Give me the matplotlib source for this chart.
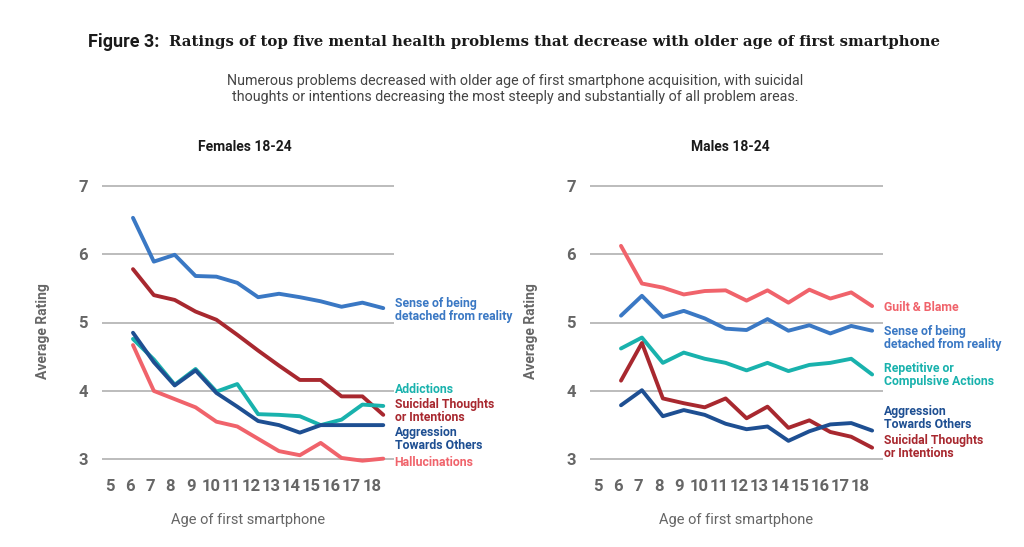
import numpy as np
import matplotlib
matplotlib.use('Agg')
import matplotlib.pyplot as plt

plt.rcParams['font.family'] = ['Roboto', 'DejaVu Sans']

# ages of first smartphone (13 points per series)
ages = np.arange(6, 19)
tick_labels = [str(a) for a in range(5, 19)]

# Females 18-24
f_sense = [6.53, 5.89, 5.99, 5.68, 5.67, 5.58, 5.37, 5.42, 5.37, 5.31, 5.23, 5.29, 5.21]
f_suicidal = [5.78, 5.40, 5.33, 5.16, 5.04, 4.82, 4.59, 4.37, 4.16, 4.16, 3.92, 3.92, 3.65]
f_addict = [4.76, 4.46, 4.09, 4.32, 3.99, 4.10, 3.66, 3.65, 3.63, 3.50, 3.58, 3.80, 3.78]
f_aggr = [4.85, 4.42, 4.08, 4.30, 3.97, 3.77, 3.56, 3.50, 3.39, 3.50, 3.50, 3.50, 3.50]
f_halluc = [4.67, 4.00, 3.88, 3.76, 3.55, 3.48, 3.30, 3.12, 3.06, 3.24, 3.02, 2.98, 3.01]

# Males 18-24
m_guilt = [6.12, 5.57, 5.51, 5.41, 5.46, 5.47, 5.32, 5.47, 5.29, 5.48, 5.35, 5.44, 5.24]
m_sense = [5.10, 5.39, 5.08, 5.17, 5.06, 4.91, 4.89, 5.05, 4.88, 4.96, 4.84, 4.95, 4.88]
m_repet = [4.62, 4.78, 4.41, 4.56, 4.47, 4.41, 4.30, 4.41, 4.29, 4.38, 4.41, 4.47, 4.24]
m_suicidal = [4.15, 4.70, 3.89, 3.82, 3.76, 3.89, 3.60, 3.77, 3.46, 3.57, 3.40, 3.33, 3.17]
m_aggr = [3.79, 4.01, 3.63, 3.72, 3.65, 3.52, 3.44, 3.48, 3.27, 3.41, 3.51, 3.53, 3.42]

BLUE = '#3a78c4'
NAVY = '#1e4f92'
TEAL = '#19b2ad'
RED = '#a8282f'
SALMON = '#f0636b'

females = [
    (f_sense, BLUE, 'Sense of being\ndetached from reality', 5.19),
    (f_suicidal, RED, 'Suicidal Thoughts\nor Intentions', 3.70),
    (f_addict, TEAL, 'Addictions', 4.02),
    (f_aggr, NAVY, 'Aggression\nTowards Others', 3.30),
    (f_halluc, SALMON, 'Hallucinations', 2.96),
]
males = [
    (m_guilt, SALMON, 'Guilt & Blame', 5.22),
    (m_sense, BLUE, 'Sense of being\ndetached from reality', 4.77),
    (m_repet, TEAL, 'Repetitive or\nCompulsive Actions', 4.23),
    (m_suicidal, RED, 'Suicidal Thoughts\nor Intentions', 3.18),
    (m_aggr, NAVY, 'Aggression\nTowards Others', 3.60),
]

W, H = 1024, 547
fig = plt.figure(figsize=(W / 100, H / 100), dpi=100)


def px_axes(left, top, width, height):
    return fig.add_axes([left / W, 1 - (top + height) / H, width / W, height / H])


def draw_panel(ax, series, title, cx):
    for vals, col, lab, ly in series:
        ax.plot(ages, vals, color=col, lw=2.8, solid_joinstyle='round',
                solid_capstyle='round', zorder=3)
        ax.text(18.55, ly, lab, color=col, fontsize=8.8, fontweight='bold',
                ha='left', va='center', linespacing=1.0)
    ax.set_xlim(4.5, 18.5)
    ax.set_ylim(2.8, 7.2)
    ax.set_yticks([3, 4, 5, 6, 7])
    ax.set_xticks(np.linspace(4.9, 17.45, 14))
    ax.set_xticklabels(tick_labels)
    ax.tick_params(length=0, labelsize=12, labelcolor='#666666', pad=10)
    ax.tick_params(axis='x', pad=4)
    for t in ax.get_xticklabels() + ax.get_yticklabels():
        t.set_fontweight('bold')
    ax.grid(axis='y', color='#aaaaaa', lw=1.1)
    ax.set_axisbelow(True)
    for s in ax.spines.values():
        s.set_visible(False)
    ax.set_ylabel('Average Rating', fontsize=10, color='#666666', fontweight='bold')
    ax.yaxis.set_label_coords(-52 / 293, 0.47)
    ax.set_xlabel('Age of first smartphone', fontsize=10.5, color='#666666', labelpad=14)
    ax.patch.set_alpha(0)
    fig.text(cx / W, 1 - 147 / H, title, fontsize=10, fontweight='bold',
             ha='center', va='center', color='#1a1a1a')


ax1 = px_axes(101.7, 172, 292, 301)
ax2 = px_axes(589.6, 172, 293, 301)
draw_panel(ax1, females, 'Females 18-24', 245)
draw_panel(ax2, males, 'Males 18-24', 730)

# title: sans prefix + slab-like serif remainder
renderer = fig.canvas.get_renderer()
t1 = fig.text(0, 1 - 42 / H, 'Figure 3:  ', fontsize=13, fontweight='bold',
              color='#1a1a1a', va='center', ha='left')
t2 = fig.text(0, 1 - 42 / H,
              'Ratings of top five mental health problems that decrease with older age of first smartphone',
              fontsize=10.7, fontweight='bold', family='DejaVu Serif', color='#1a1a1a',
              va='center', ha='left')
w1 = t1.get_window_extent(renderer).width
w2 = t2.get_window_extent(renderer).width
x0 = 514 - (w1 + w2) / 2
t1.set_x(x0 / W)
t2.set_x((x0 + w1) / W)

fig.text(515 / W, 1 - 89 / H,
         'Numerous problems decreased with older age of first smartphone acquisition, with suicidal\n'
         'thoughts or intentions decreasing the most steeply and substantially of all problem areas.',
         fontsize=10.3, color='#444444', ha='center', va='center', linespacing=1.25)

fig.savefig('out.png', dpi=100, facecolor='white')
